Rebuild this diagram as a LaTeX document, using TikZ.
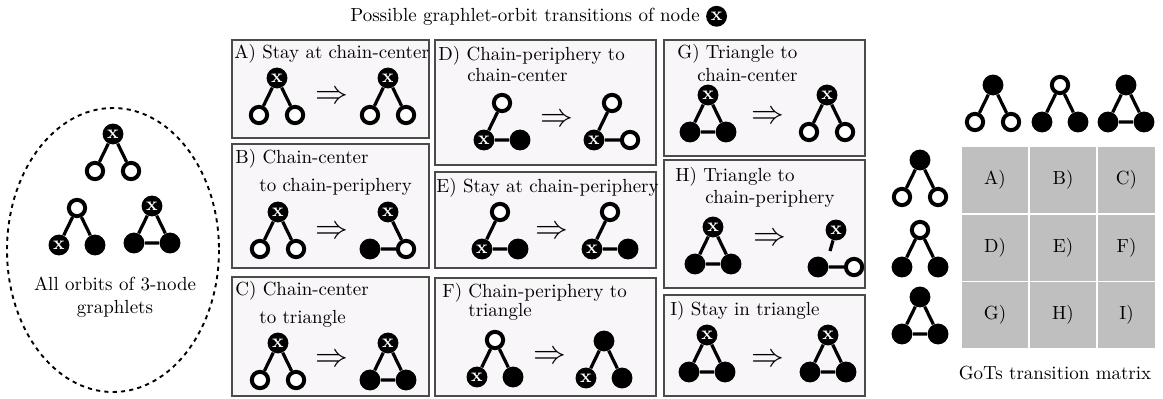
\documentclass[tikz,border=0pt]{standalone}
\usepackage{amsmath,amssymb}
\usepackage{xcolor}
\usetikzlibrary{positioning}

\definecolor{panelfill}{RGB}{248,246,248}
\definecolor{panelline}{RGB}{75,75,75}
\definecolor{cellgray}{RGB}{192,191,191}

\tikzset{
    xnode/.style={circle, fill=black, minimum size=11pt, inner sep=0pt, text=white, font=\bfseries},
    wnode/.style={circle, draw=black, line width=2.1pt, fill=white, minimum size=8.6pt, inner sep=0pt},
    bnode/.style={circle, fill=black, minimum size=11pt, inner sep=0pt},
    link/.style={line width=1.7pt},
    panel/.style={draw=panelline, line width=0.8pt, fill=panelfill},
    head/.style={anchor=base west, inner sep=0pt},
    arr/.style={font=\LARGE, inner sep=0pt},
    cell/.style={fill=cellgray, minimum width=34.8pt, minimum height=34.8pt, inner sep=0pt},
    orbitring/.style={line width=1pt, dash pattern=on 2.2pt off 2.2pt},
}

\begin{document}
\begin{tikzpicture}[x=0.527pt, y=-0.527pt, node distance=19.5pt and 9.5pt, on grid]
    \useasboundingbox (0,0) rectangle (1163,398);

    % title
    \node[head] (title) at (350,21) {Possible graphlet-orbit transitions of node};
    \node[xnode, on grid=false, right=3pt of title] (tx) {x};

    % all orbits
    \draw[orbitring] (113,250) ellipse [x radius=106, y radius=142];
    \node[xnode] (o1t) at (113,134) {x};
    \node[wnode, below left=of o1t] (o1l) {};
    \node[wnode, below right=of o1t] (o1r) {};
    \draw[link] (o1t) -- (o1l) (o1t) -- (o1r);
    \node[wnode] (o2t) at (77,208) {};
    \node[xnode, below left=of o2t] (o2l) {x};
    \node[bnode, below right=of o2t] (o2r) {};
    \draw[link] (o2t) -- (o2l) (o2t) -- (o2r);
    \node[xnode] (o3t) at (152,206) {x};
    \node[bnode, below left=of o3t] (o3l) {};
    \node[bnode, below right=of o3t] (o3r) {};
    \draw[link] (o3t) -- (o3l) -- (o3r) -- (o3t);
    \node[align=center] (orbcap) at (115,297) {All orbits of 3-node\\graphlets};

    % panels
    \draw[panel] (232,40) rectangle (429,138);
    \draw[panel] (232,144) rectangle (429,268);
    \draw[panel] (232,277) rectangle (429,396);
    \draw[panel] (435,40) rectangle (656,165);
    \draw[panel] (435,172) rectangle (656,268);
    \draw[panel] (435,278) rectangle (656,396);
    \draw[panel] (664,40) rectangle (865,156);
    \draw[panel] (664,160) rectangle (865,288);
    \draw[panel] (664,295) rectangle (865,396);

    % A) stay at chain-center
    \node[head] (ahead) at (234,58) {A) Stay at chain-center};
    \node[xnode] (a1t) at (277,78) {x};
    \node[wnode, below left=of a1t] (a1l) {};
    \node[wnode, below right=of a1t] (a1r) {};
    \draw[link] (a1t) -- (a1l) (a1t) -- (a1r);
    \node[arr] (aarr) at (332,97) {$\Rightarrow$};
    \node[xnode] (a2t) at (388,78) {x};
    \node[wnode, below left=of a2t] (a2l) {};
    \node[wnode, below right=of a2t] (a2r) {};
    \draw[link] (a2t) -- (a2l) (a2t) -- (a2r);

    % B) chain-center to chain-periphery
    \node[head] (bhead) at (235,163) {B) Chain-center};
    \node[head] (bhead2) at (259,191) {to chain-periphery};
    \node[xnode] (b1t) at (278,212) {x};
    \node[wnode, below left=of b1t] (b1l) {};
    \node[wnode, below right=of b1t] (b1r) {};
    \draw[link] (b1t) -- (b1l) (b1t) -- (b1r);
    \node[arr] (barr) at (332,232) {$\Rightarrow$};
    \node[xnode] (b2t) at (388,212) {x};
    \node[bnode, below left=of b2t] (b2l) {};
    \node[wnode, below right=of b2t] (b2r) {};
    \draw[link] (b2t) -- (b2r) (b2l) -- (b2r);

    % C) chain-center to triangle
    \node[head] (chead) at (235,295) {C) Chain-center};
    \node[head] (chead2) at (259,323) {to triangle};
    \node[xnode] (c1t) at (278,343) {x};
    \node[wnode, below left=of c1t] (c1l) {};
    \node[wnode, below right=of c1t] (c1r) {};
    \draw[link] (c1t) -- (c1l) (c1t) -- (c1r);
    \node[arr] (carr) at (332,360) {$\Rightarrow$};
    \node[xnode] (c2t) at (388,343) {x};
    \node[bnode, below left=of c2t] (c2l) {};
    \node[bnode, below right=of c2t] (c2r) {};
    \draw[link] (c2t) -- (c2l) -- (c2r) -- (c2t);

    % D) chain-periphery to chain-center
    \node[head] (dhead) at (438,60) {D) Chain-periphery to};
    \node[head] (dhead2) at (467,81) {chain-center};
    \node[wnode] (d1t) at (502,103) {};
    \node[xnode, below left=of d1t] (d1l) {x};
    \node[bnode, below right=of d1t] (d1r) {};
    \draw[link] (d1t) -- (d1l) -- (d1r);
    \node[arr] (darr) at (557,120) {$\Rightarrow$};
    \node[wnode] (d2t) at (612,103) {};
    \node[xnode, below left=of d2t] (d2l) {x};
    \node[wnode, below right=of d2t] (d2r) {};
    \draw[link] (d2t) -- (d2l) -- (d2r);

    % E) stay at chain-periphery
    \node[head] (ehead) at (436,192) {E) Stay at chain-periphery};
    \node[wnode] (e1t) at (500,212) {};
    \node[xnode, below left=of e1t] (e1l) {x};
    \node[bnode, below right=of e1t] (e1r) {};
    \draw[link] (e1t) -- (e1l) -- (e1r);
    \node[arr] (earr) at (552,232) {$\Rightarrow$};
    \node[wnode] (e2t) at (610,212) {};
    \node[xnode, below left=of e2t] (e2l) {x};
    \node[bnode, below right=of e2t] (e2r) {};
    \draw[link] (e2t) -- (e2l) -- (e2r);

    % F) chain-periphery to triangle
    \node[head] (fhead) at (442,297) {F) Chain-periphery to};
    \node[head] (fhead2) at (468,316) {triangle};
    \node[wnode] (f1t) at (495,340) {};
    \node[xnode, below left=of f1t] (f1l) {x};
    \node[bnode, below right=of f1t] (f1r) {};
    \draw[link] (f1t) -- (f1l) (f1t) -- (f1r);
    \node[arr] (farr) at (550,357) {$\Rightarrow$};
    \node[bnode] (f2t) at (604,341) {};
    \node[xnode, below left=of f2t] (f2l) {x};
    \node[bnode, below right=of f2t] (f2r) {};
    \draw[link] (f2t) -- (f2l) (f2t) -- (f2r);

    % G) triangle to chain-center
    \node[head] (ghead) at (677,58) {G) Triangle to};
    \node[head] (ghead2) at (697,81) {chain-center};
    \node[xnode] (g1t) at (708,95) {x};
    \node[bnode, below left=of g1t] (g1l) {};
    \node[bnode, below right=of g1t] (g1r) {};
    \draw[link] (g1t) -- (g1l) -- (g1r) -- (g1t);
    \node[arr] (garr) at (768,117) {$\Rightarrow$};
    \node[xnode] (g2t) at (827,95) {x};
    \node[wnode, below left=of g2t] (g2l) {};
    \node[wnode, below right=of g2t] (g2r) {};
    \draw[link] (g2t) -- (g2l) (g2t) -- (g2r);

    % H) triangle to chain-periphery
    \node[head] (hhead) at (675,181) {H) Triangle to};
    \node[head] (hhead2) at (705,203) {chain-periphery};
    \node[xnode] (h1t) at (713,227) {x};
    \node[bnode, below left=of h1t] (h1l) {};
    \node[bnode, below right=of h1t] (h1r) {};
    \draw[link] (h1t) -- (h1l) -- (h1r) -- (h1t);
    \node[arr] (harr) at (770,239) {$\Rightarrow$};
    \node[xnode] (h2t) at (836,230) {x};
    \coordinate (h2s) at (830,251);
    \node[bnode, below left=of h2t] (h2l) {};
    \node[wnode, below right=of h2t] (h2r) {};
    \draw[link] (h2t) -- (h2s) (h2l) -- (h2r);

    % I) stay in triangle
    \node[head] (ihead) at (670,315) {I) Stay in triangle};
    \node[xnode] (i1t) at (707,335) {x};
    \node[bnode, below left=of i1t] (i1l) {};
    \node[bnode, below right=of i1t] (i1r) {};
    \draw[link] (i1t) -- (i1l) -- (i1r) -- (i1t);
    \node[arr] (iarr) at (768,360) {$\Rightarrow$};
    \node[xnode] (i2t) at (828,335) {x};
    \node[bnode, below left=of i2t] (i2l) {};
    \node[bnode, below right=of i2t] (i2r) {};
    \draw[link] (i2t) -- (i2l) -- (i2r) -- (i2t);

    % transition matrix, column heads
    \node[bnode] (k1t) at (993,85) {};
    \node[wnode, below left=of k1t] (k1l) {};
    \node[wnode, below right=of k1t] (k1r) {};
    \draw[link] (k1t) -- (k1l) (k1t) -- (k1r);
    \node[wnode] (k2t) at (1060,85) {};
    \node[bnode, below left=of k2t] (k2l) {};
    \node[bnode, below right=of k2t] (k2r) {};
    \draw[link] (k2t) -- (k2l) (k2t) -- (k2r);
    \node[bnode] (k3t) at (1126,85) {};
    \node[bnode, below left=of k3t] (k3l) {};
    \node[bnode, below right=of k3t] (k3r) {};
    \draw[link] (k3t) -- (k3l) -- (k3r) -- (k3t);

    % row heads
    \node[bnode] (r1t) at (920,160) {};
    \node[wnode, below left=of r1t] (r1l) {};
    \node[wnode, below right=of r1t] (r1r) {};
    \draw[link] (r1t) -- (r1l) (r1t) -- (r1r);
    \node[wnode] (r2t) at (920,230) {};
    \node[bnode, below left=of r2t] (r2l) {};
    \node[bnode, below right=of r2t] (r2r) {};
    \draw[link] (r2t) -- (r2l) (r2t) -- (r2r);
    \node[bnode] (r3t) at (920,297) {};
    \node[bnode, below left=of r3t] (r3l) {};
    \node[bnode, below right=of r3t] (r3r) {};
    \draw[link] (r3t) -- (r3l) -- (r3r) -- (r3t);

    % cells
    \node[cell] (mA) at (995,180) {A)};
    \node[cell] (mB) at (1063,180) {B)};
    \node[cell, minimum width=30pt] (mC) at (1126.5,180) {C)};
    \node[cell] (mD) at (995,248) {D)};
    \node[cell] (mE) at (1063,248) {E)};
    \node[cell, minimum width=30pt] (mF) at (1126.5,248) {F)};
    \node[cell] (mG) at (995,315) {G)};
    \node[cell] (mH) at (1063,315) {H)};
    \node[cell, minimum width=30pt] (mI) at (1126.5,315) {I)};
    \node (mcap) at (1055,373) {GoTs transition matrix};
\end{tikzpicture}
\end{document}
